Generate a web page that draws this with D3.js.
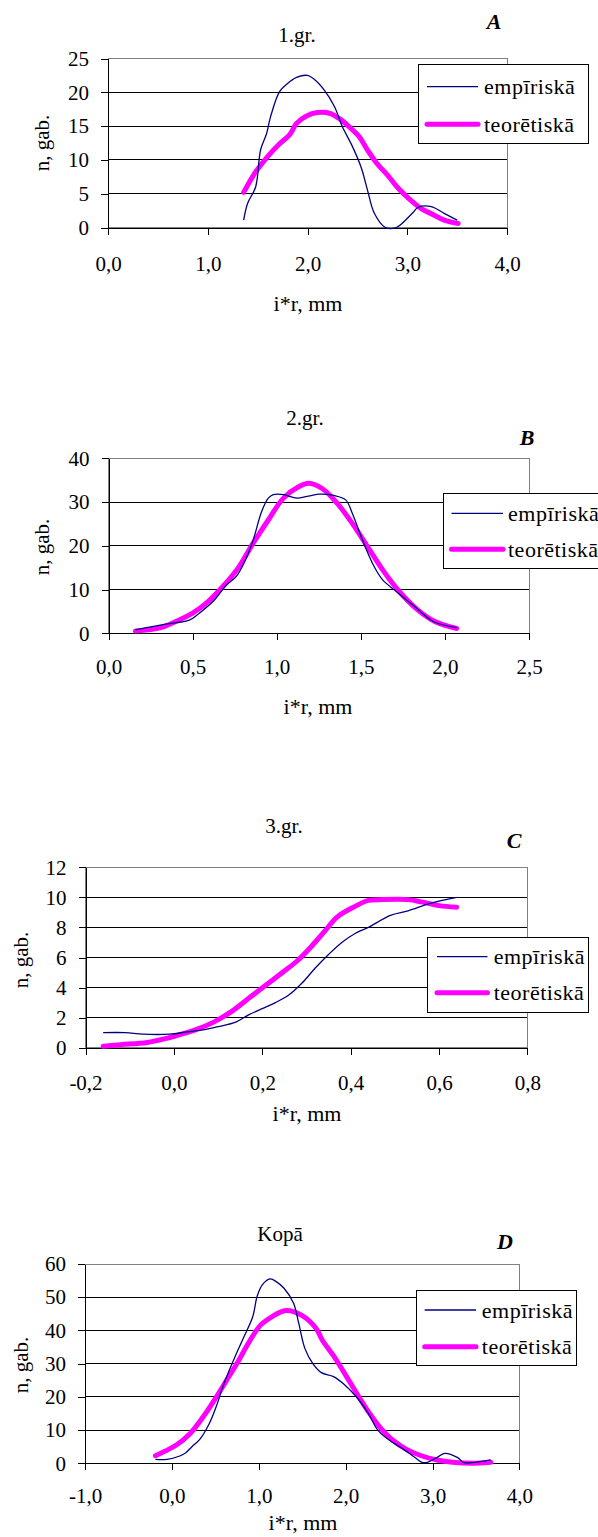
<!DOCTYPE html>
<html>
<head>
<meta charset="utf-8">
<script src="https://cdn.jsdelivr.net/npm/d3@7"></script>
<style>
  body { margin: 0; background: #fff; }
  svg { display: block; }
</style>
</head>
<body>
<div id="chart"></div>
<script>
// ---- data ----
// A: 1.gr.
const empA_x = [1.36, 1.40, 1.48, 1.53, 1.59, 1.63, 1.72, 1.80, 1.89, 2.00, 2.07, 2.17, 2.27, 2.35, 2.45, 2.54, 2.60, 2.67, 2.78, 2.89, 3.05, 3.11, 3.24, 3.37, 3.50];
const empA_y = [1.1, 3.6, 6.0, 11.5, 13.9, 16.4, 20.1, 21.3, 22.2, 22.5, 21.9, 20.3, 17.9, 14.9, 12.0, 8.8, 5.6, 2.1, 0, 0, 2.1, 3.0, 3.1, 2.1, 1.1];
const teoA_x = [1.36, 1.47, 1.60, 1.72, 1.82, 1.89, 1.99, 2.10, 2.22, 2.32, 2.41, 2.52, 2.60, 2.70, 2.80, 2.91, 3.03, 3.14, 3.26, 3.37, 3.51];
const teoA_y = [5.2, 8.0, 10.5, 12.4, 13.7, 15.4, 16.5, 17.0, 16.9, 16.1, 15.0, 13.4, 11.5, 9.4, 7.8, 5.8, 4.1, 2.8, 1.9, 1.1, 0.6];

// B: 2.gr.
const empB_x = [0.16, 0.34, 0.48, 0.54, 0.63, 0.70, 0.76, 0.81, 0.86, 0.91, 0.95, 0.98, 1.04, 1.12, 1.18, 1.25, 1.34, 1.41, 1.45, 1.51, 1.58, 1.63, 1.70, 1.82, 1.93, 2.07];
const empB_y = [0.8, 2.1, 3.0, 4.6, 7.6, 11.0, 13.0, 16.4, 21.3, 27.8, 30.9, 31.7, 31.7, 30.9, 31.3, 31.8, 31.5, 30.5, 27.4, 21.3, 15.2, 12.2, 9.9, 6.1, 2.7, 1.3];
const teoB_x = [0.16, 0.31, 0.40, 0.50, 0.59, 0.68, 0.77, 0.86, 0.95, 1.04, 1.13, 1.19, 1.27, 1.36, 1.45, 1.54, 1.63, 1.73, 1.84, 1.94, 2.07];
const teoB_y = [0.5, 1.3, 2.7, 4.6, 7.2, 10.7, 14.9, 20.6, 25.9, 30.9, 33.5, 34.3, 33.1, 29.7, 25.1, 19.8, 14.5, 9.5, 5.3, 2.7, 1.1];

// C: 3.gr.
const empC_x = [-0.16, -0.11, -0.07, -0.01, 0.03, 0.07, 0.10, 0.14, 0.17, 0.20, 0.23, 0.26, 0.29, 0.32, 0.35, 0.38, 0.41, 0.44, 0.49, 0.53, 0.58, 0.64];
const empC_y = [1.0, 1.0, 0.9, 0.9, 1.05, 1.2, 1.4, 1.7, 2.2, 2.6, 3.0, 3.5, 4.3, 5.3, 6.2, 7.0, 7.6, 8.0, 8.8, 9.1, 9.6, 10.0];
const teoC_x = [-0.16, -0.12, -0.06, -0.02, 0.01, 0.05, 0.09, 0.13, 0.17, 0.21, 0.25, 0.28, 0.31, 0.34, 0.37, 0.41, 0.44, 0.47, 0.53, 0.56, 0.60, 0.64];
const teoC_y = [0.1, 0.2, 0.35, 0.6, 0.84, 1.2, 1.7, 2.4, 3.3, 4.2, 5.1, 5.8, 6.7, 7.7, 8.7, 9.4, 9.8, 9.85, 9.85, 9.7, 9.45, 9.35];

// D: Kopā
const empD_x = [-0.19, -0.06, 0.09, 0.16, 0.23, 0.32, 0.43, 0.51, 0.60, 0.71, 0.82, 0.93, 0.98, 1.04, 1.13, 1.20, 1.29, 1.40, 1.46, 1.53, 1.62, 1.72, 1.86, 1.99, 2.12, 2.26, 2.37, 2.50, 2.65, 2.81, 2.88, 2.94, 3.05, 3.14, 3.29, 3.36, 3.49, 3.62, 3.67];
const empD_y = [1.2, 1.2, 2.2, 3.2, 5.0, 7.2, 12.0, 17.1, 24.1, 31.1, 37.6, 44.1, 50.2, 53.7, 55.5, 54.7, 52.7, 48.2, 42.1, 34.6, 30.1, 27.3, 26.1, 23.6, 20.1, 15.0, 10.0, 7.0, 4.5, 1.5, 0.3, 0.3, 1.7, 3.0, 1.7, 0.2, 0.3, 0.8, 1.0];
const teoD_x = [-0.19, 0.05, 0.21, 0.36, 0.49, 0.62, 0.76, 0.89, 1.02, 1.15, 1.31, 1.49, 1.66, 1.73, 1.88, 2.01, 2.15, 2.26, 2.39, 2.54, 2.70, 2.88, 3.05, 3.23, 3.45, 3.67];
const teoD_y = [2.3, 5.5, 9.0, 14.0, 19.1, 24.6, 30.6, 36.6, 41.6, 44.1, 46.0, 44.6, 40.6, 37.1, 31.6, 26.1, 20.1, 15.6, 11.0, 7.0, 4.2, 2.2, 1.0, 0.3, 0.0, 0.3];

// axis ticks
const xTicksA = [0, 1, 2, 3, 4];
const yTicksA = [0, 5, 10, 15, 20, 25];
const xTicksB = [0, 0.5, 1, 1.5, 2, 2.5];
const yTicksB = [0, 10, 20, 30, 40];
const xTicksC = [-0.2, 0, 0.2, 0.4, 0.6, 0.8];
const yTicksC = [0, 2, 4, 6, 8, 10, 12];
const xTicksD = [-1, 0, 1, 2, 3, 4];
const yTicksD = [0, 10, 20, 30, 40, 50, 60];

const titles = ["1.gr.", "2.gr.", "3.gr.", "Kopā"];
const letters = ["A", "B", "C", "D"];
const seriesNames = ["empīriskā", "teorētiskā"];

// ---- layout ----
const font = "Liberation Serif";
const empColor = "#000080", teoColor = "#ff00ff";

const charts = [
  { emp: [empA_x, empA_y], teo: [teoA_x, teoA_y], xTicks: xTicksA, yTicks: yTicksA,
    plot: {l: 108, r: 507, t: 58.5, b: 227.5}, xPad: 22,
    title: [297, 42], letter: [494, 29], xLab: [308, 311], yLab: [42, 143],
    legend: {x: 418, y: 64, w: 170, h: 79, s0: 427, s1: 478, tx: 484, r1: 86.7, r2: 124.3} },
  { emp: [empB_x, empB_y], teo: [teoB_x, teoB_y], xTicks: xTicksB, yTicks: yTicksB,
    plot: {l: 108.5, r: 529, t: 458.3, b: 633.3}, xPad: 19,
    title: [305, 425], letter: [527, 445], xLab: [318, 714], yLab: [42, 547],
    legend: {x: 443, y: 493, w: 158, h: 75.5, s0: 451.5, s1: 503, tx: 508, r1: 513.3, r2: 549.3} },
  { emp: [empC_x, empC_y], teo: [teoC_x, teoC_y], xTicks: xTicksC, yTicks: yTicksC,
    plot: {l: 85.5, r: 527.4, t: 867.3, b: 1047.7}, xPad: 20,
    title: [284, 833], letter: [514, 848], xLab: [307, 1121], yLab: [21, 960],
    legend: {x: 427.4, y: 937.3, w: 160.6, h: 74.7, s0: 437, s1: 487.5, tx: 493.7, r1: 956.7, r2: 992.7} },
  { emp: [empD_x, empD_y], teo: [teoD_x, teoD_y], xTicks: xTicksD, yTicks: yTicksD,
    plot: {l: 85.1, r: 519.4, t: 1264, b: 1463.3}, xPad: 18,
    title: [280, 1241], letter: [505, 1249], xLab: [303, 1530], yLab: [21, 1365],
    legend: {x: 416.6, y: 1290.7, w: 159.4, h: 75, s0: 424.7, s1: 476, tx: 481.8, r1: 1310, r2: 1346.7} }
];

const svg = d3.select("#chart").append("svg")
  .attr("width", 598)
  .attr("height", 1537);

const commaFmt = d => d3.format(".1f")(d).replace(".", ",").replace("\u2212", "-");

charts.forEach((c, i) => {
  const g = svg.append("g");
  const p = c.plot;

  let x = d3.scaleLinear()
    .domain(d3.extent(c.xTicks))
    .range([p.l, p.r]);
  let y = d3.scaleLinear()
    .domain(d3.extent(c.yTicks))
    .range([p.b, p.t]);

  // plot area border
  g.append("rect")
    .attr("x", p.l).attr("y", p.t)
    .attr("width", p.r - p.l).attr("height", p.b - p.t)
    .attr("fill", "none")
    .attr("stroke", "#808080")
    .attr("shape-rendering", "crispEdges");

  // gridlines
  g.selectAll(".grid")
    .data(c.yTicks.slice(1, -1))
    .join("line")
    .attr("x1", p.l).attr("x2", p.r)
    .attr("y1", d => y(d)).attr("y2", d => y(d))
    .attr("stroke", "#000")
    .attr("shape-rendering", "crispEdges");

  // axes
  let yAxis = g.append("g")
    .attr("transform", `translate(${p.l},0)`)
    .call(d3.axisLeft(y).tickValues(c.yTicks).tickSize(7).tickSizeOuter(0).tickPadding(12).tickFormat(d3.format("d")));
  let xAxis = g.append("g")
    .attr("transform", `translate(0,${p.b})`)
    .call(d3.axisBottom(x).tickValues(c.xTicks).tickSize(7).tickSizeOuter(0).tickPadding(c.xPad).tickFormat(commaFmt));
  [yAxis, xAxis].forEach(a => {
    a.attr("font-family", null).attr("font-size", null);
    a.selectAll("line, path").attr("stroke", "#000").attr("shape-rendering", "crispEdges");
    a.selectAll("text")
      .attr("fill", "#000")
      .style("font-family", font)
      .style("font-size", "21px");
  });

  // series
  const line = d3.line()
    .x(d => x(d[0]))
    .y(d => y(d[1]))
    .curve(d3.curveCatmullRom.alpha(0.5));

  g.append("path")
    .datum(d3.zip(c.teo[0], c.teo[1]))
    .attr("d", line)
    .attr("fill", "none")
    .attr("stroke", teoColor)
    .attr("stroke-width", 5)
    .attr("stroke-linecap", "round")
    .attr("stroke-linejoin", "round");
  g.append("path")
    .datum(d3.zip(c.emp[0], c.emp[1]))
    .attr("d", line)
    .attr("fill", "none")
    .attr("stroke", empColor)
    .attr("stroke-width", 1.3);

  // title, letter, axis labels
  g.append("text")
    .attr("x", c.title[0]).attr("y", c.title[1])
    .attr("text-anchor", "middle")
    .style("font-family", font)
    .style("font-size", "21px")
    .text(titles[i]);
  g.append("text")
    .attr("x", c.letter[0]).attr("y", c.letter[1])
    .attr("text-anchor", "middle")
    .style("font-family", font)
    .style("font-size", "22px")
    .style("font-weight", "bold")
    .style("font-style", "italic")
    .text(letters[i]);
  g.append("text")
    .attr("x", c.xLab[0]).attr("y", c.xLab[1])
    .attr("text-anchor", "middle")
    .style("font-family", font)
    .style("font-size", "22px")
    .text("i*r, mm");
  g.append("text")
    .attr("transform", `translate(${c.yLab[0]},${c.yLab[1]}) rotate(-90)`)
    .attr("text-anchor", "middle")
    .attr("dy", "0.35em")
    .style("font-family", font)
    .style("font-size", "21px")
    .text("n, gab.");

  // legend
  const L = c.legend;
  g.append("rect")
    .attr("x", L.x).attr("y", L.y)
    .attr("width", L.w).attr("height", L.h)
    .attr("fill", "#fff")
    .attr("stroke", "#000")
    .attr("shape-rendering", "crispEdges");
  [[L.r1, empColor, 1.3], [L.r2, teoColor, 5]].forEach((r, k) => {
    g.append("line")
      .attr("x1", L.s0).attr("x2", L.s1)
      .attr("y1", r[0]).attr("y2", r[0])
      .attr("stroke", r[1])
      .attr("stroke-width", r[2])
      .attr("stroke-linecap", k ? "round" : "butt");
    g.append("text")
      .attr("x", L.tx).attr("y", r[0])
      .attr("dy", "0.35em")
      .style("font-family", font)
      .style("font-size", "22px")
      .style("letter-spacing", "0.5px")
      .text(seriesNames[k]);
  });
});
</script>
</body>
</html>
